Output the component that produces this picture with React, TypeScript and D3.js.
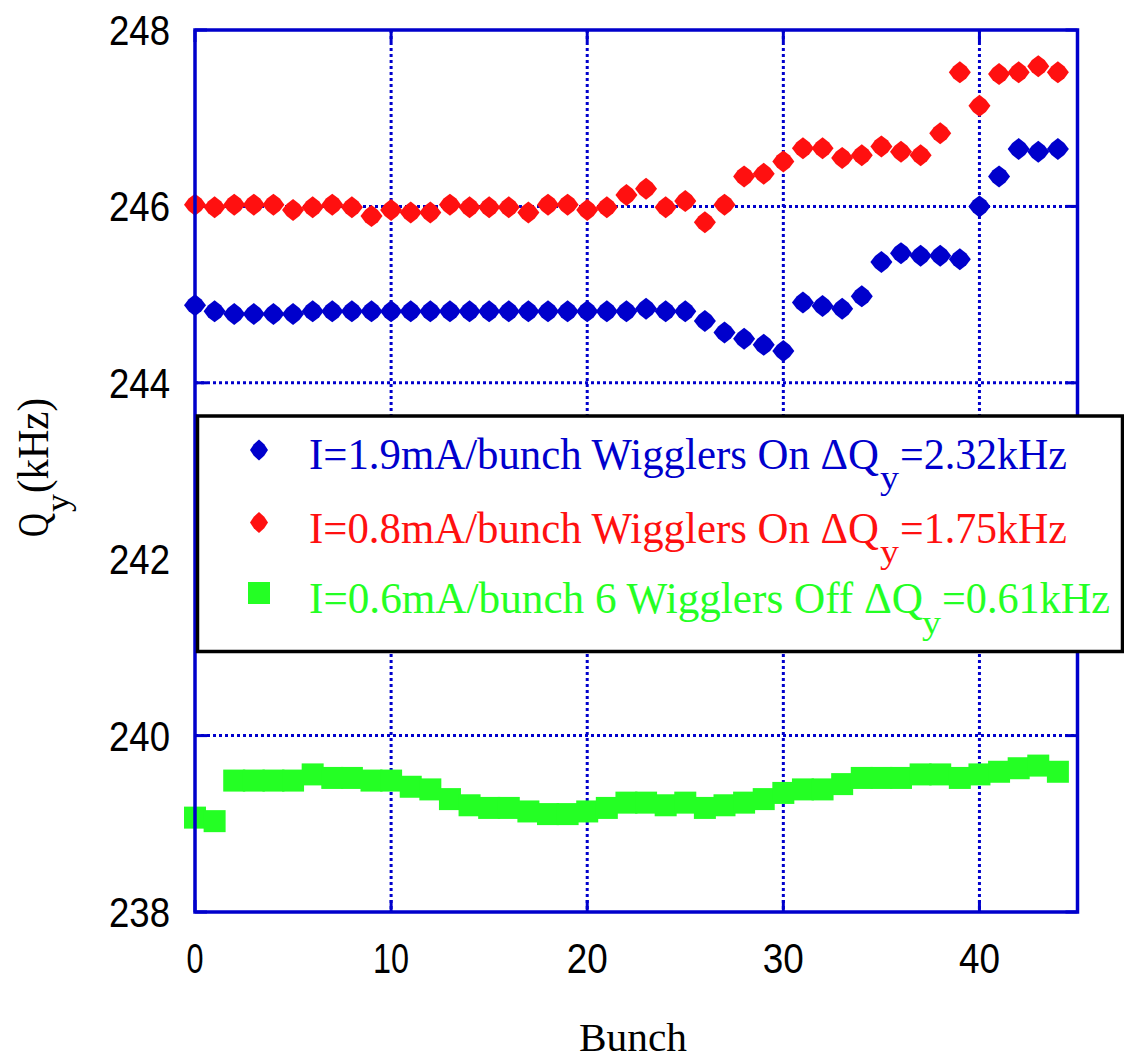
import React from 'react';
import * as d3 from 'd3';

const bunch = [0, 1, 2, 3, 4, 5, 6, 7, 8, 9, 10, 11, 12, 13, 14, 15, 16, 17, 18, 19, 20, 21, 22, 23, 24, 25, 26, 27, 28, 29, 30, 31, 32, 33, 34, 35, 36, 37, 38, 39, 40, 41, 42, 43, 44];

// I=1.9mA/bunch Wigglers On (blue)
const qyBlue = [244.88, 244.81, 244.78, 244.78, 244.78, 244.78, 244.81, 244.81, 244.81, 244.81, 244.81, 244.81, 244.81, 244.81, 244.81, 244.81, 244.81, 244.81, 244.81, 244.81, 244.81, 244.81, 244.81, 244.84, 244.81, 244.81, 244.70, 244.57, 244.50, 244.43, 244.36, 244.91, 244.87, 244.84, 244.98, 245.37, 245.47, 245.44, 245.44, 245.40, 246.00, 246.34, 246.65, 246.62, 246.65];

// I=0.8mA/bunch Wigglers On (red)
const qyRed = [246.02, 245.99, 246.02, 246.02, 246.02, 245.96, 245.99, 246.02, 245.99, 245.89, 245.96, 245.93, 245.93, 246.02, 245.99, 245.99, 245.99, 245.93, 246.02, 246.02, 245.96, 245.99, 246.13, 246.20, 245.99, 246.06, 245.82, 246.02, 246.34, 246.37, 246.51, 246.66, 246.66, 246.55, 246.58, 246.68, 246.62, 246.58, 246.83, 247.52, 247.14, 247.50, 247.52, 247.59, 247.52];

// I=0.6mA/bunch 6 Wigglers Off (green)
const qyGreen = [239.07, 239.03, 239.49, 239.49, 239.49, 239.49, 239.56, 239.52, 239.52, 239.49, 239.49, 239.42, 239.39, 239.28, 239.21, 239.18, 239.18, 239.14, 239.11, 239.11, 239.14, 239.18, 239.24, 239.24, 239.21, 239.24, 239.18, 239.21, 239.24, 239.28, 239.35, 239.39, 239.39, 239.45, 239.52, 239.52, 239.52, 239.56, 239.56, 239.52, 239.56, 239.59, 239.63, 239.66, 239.59];

const yTicks = [238, 240, 242, 244, 246, 248];
const xTicks = [0, 10, 20, 30, 40];

const legendMain = ['I=1.9mA/bunch Wigglers On ΔQ', 'I=0.8mA/bunch Wigglers On ΔQ', 'I=0.6mA/bunch 6 Wigglers Off ΔQ'];
const legendValue = ['=2.32kHz', '=1.75kHz', '=0.61kHz'];

const BLUE = '#0000cc';
const RED = '#ff1010';
const GREEN = '#24ff24';

const diamond = (cx: number, cy: number, hw: number, hh: number) => {
  const bx = hw * 0.58, by = hh * 0.55;
  return `M${cx},${cy - hh}L${cx + bx},${cy - by}L${cx + hw},${cy}L${cx + bx},${cy + by}L${cx},${cy + hh}` +
    `L${cx - bx},${cy + by}L${cx - hw},${cy}L${cx - bx},${cy - by}Z`;
};

export default function App() {
  const x = d3.scaleLinear().domain([0, 45]).range([195, 1077.5]);
  const y = d3.scaleLinear().domain([238, 248]).range([912, 30]);
  const [x0, x1] = x.range();
  const [y0, y1] = y.range();

  const serif = '"Liberation Serif", "Times New Roman", serif';
  const sans = '"Liberation Sans", Arial, sans-serif';

  const legendRows = [
    { color: BLUE, base: 469, sub: 489, mainEnd: 879, subX: 880, valX: 900, valEnd: 1067, marker: 'd', my: 450 },
    { color: RED, base: 542.5, sub: 563, mainEnd: 879, subX: 880, valX: 900, valEnd: 1067, marker: 'd', my: 522.5 },
    { color: GREEN, base: 613, sub: 634, mainEnd: 923, subX: 922, valX: 942, valEnd: 1110, marker: 's', my: 593 },
  ];

  return (
    <svg width={1124} height={1060} style={{ position: 'absolute', left: 0, top: 0, background: '#fff' }}>
      {/* grid lines */}
      {xTicks.filter(t => t !== 0).map(t => (
        <line key={'gx' + t} x1={x(t)} x2={x(t)} y1={y1} y2={y0} stroke={BLUE} strokeWidth={3} strokeDasharray="3,3" />
      ))}
      {yTicks.filter(t => t !== 238 && t !== 248).map(t => (
        <line key={'gy' + t} x1={x0} x2={x1} y1={y(t)} y2={y(t)} stroke={BLUE} strokeWidth={3} strokeDasharray="3,3" />
      ))}
      {/* inner ticks */}
      {xTicks.map(t => (
        <g key={'tx' + t}>
          <line x1={x(t)} x2={x(t)} y1={y0} y2={y0 - 12} stroke={BLUE} strokeWidth={3} />
          <line x1={x(t)} x2={x(t)} y1={y1} y2={y1 + 12} stroke={BLUE} strokeWidth={3} />
        </g>
      ))}
      {yTicks.map(t => (
        <g key={'ty' + t}>
          <line x1={x0} x2={x0 + 12} y1={y(t)} y2={y(t)} stroke={BLUE} strokeWidth={3} />
          <line x1={x1} x2={x1 - 12} y1={y(t)} y2={y(t)} stroke={BLUE} strokeWidth={3} />
        </g>
      ))}

      {/* data */}
      {bunch.map((b, i) => (
        <rect key={'g' + b} x={x(b) - 11} y={y(qyGreen[i]) - 11} width={22} height={22} fill={GREEN} />
      ))}
      {bunch.map((b, i) => (
        <path key={'b' + b} d={diamond(x(b), y(qyBlue[i]), 11, 11)} fill={BLUE} />
      ))}
      {bunch.map((b, i) => (
        <path key={'r' + b} d={diamond(x(b), y(qyRed[i]), 11, 11)} fill={RED} />
      ))}

      {/* frame */}
      <rect x={x0} y={y1} width={x1 - x0} height={y0 - y1} fill="none" stroke={BLUE} strokeWidth={3.5} />

      {/* tick labels */}
      {yTicks.map(t => (
        <text key={'ly' + t} x={170} y={y(t) + 15} textAnchor="end" fontFamily={sans} fontSize={42}
          textLength={61} lengthAdjust="spacingAndGlyphs" fill="#000">{t}</text>
      ))}
      {xTicks.map(t => (
        <text key={'lx' + t} x={x(t)} y={973} textAnchor="middle" fontFamily={sans} fontSize={42}
          textLength={t === 0 ? 17 : t === 10 ? 36 : 41} lengthAdjust="spacingAndGlyphs" fill="#000">{t}</text>
      ))}

      {/* axis titles */}
      <text x={633} y={1051} textAnchor="middle" fontFamily={serif} fontSize={41}
        textLength={108} lengthAdjust="spacingAndGlyphs" fill="#000">Bunch</text>
      <g transform="translate(48,537) rotate(-90)">
        <text x={0} y={0} fontFamily={serif} fontSize={44} textLength={24} lengthAdjust="spacingAndGlyphs" fill="#000">Q</text>
        <text x={25} y={21} fontFamily={serif} fontSize={33} textLength={18} lengthAdjust="spacingAndGlyphs" fill="#000">y</text>
        <text x={44} y={0} fontFamily={serif} fontSize={44} textLength={95} lengthAdjust="spacingAndGlyphs" fill="#000">(kHz)</text>
      </g>

      {/* legend */}
      <rect x={197.5} y={416} width={925} height={235.5} fill="#fff" stroke="#000" strokeWidth={3.5} />
      {legendRows.map((r, i) => (
        <g key={'leg' + i}>
          {r.marker === 'd'
            ? <path d={diamond(259, r.my, 9, 10.5)} fill={r.color} />
            : <rect x={248} y={r.my - 11} width={22} height={22} fill={r.color} />}
          <text x={309} y={r.base} fontFamily={serif} fontSize={45} fill={r.color}
            textLength={r.mainEnd - 309} lengthAdjust="spacingAndGlyphs">{legendMain[i]}</text>
          <text x={r.subX} y={r.sub} fontFamily={serif} fontSize={34} fill={r.color}
            textLength={19} lengthAdjust="spacingAndGlyphs">y</text>
          <text x={r.valX} y={r.base} fontFamily={serif} fontSize={45} fill={r.color}
            textLength={r.valEnd - r.valX} lengthAdjust="spacingAndGlyphs">{legendValue[i]}</text>
        </g>
      ))}
    </svg>
  );
}
